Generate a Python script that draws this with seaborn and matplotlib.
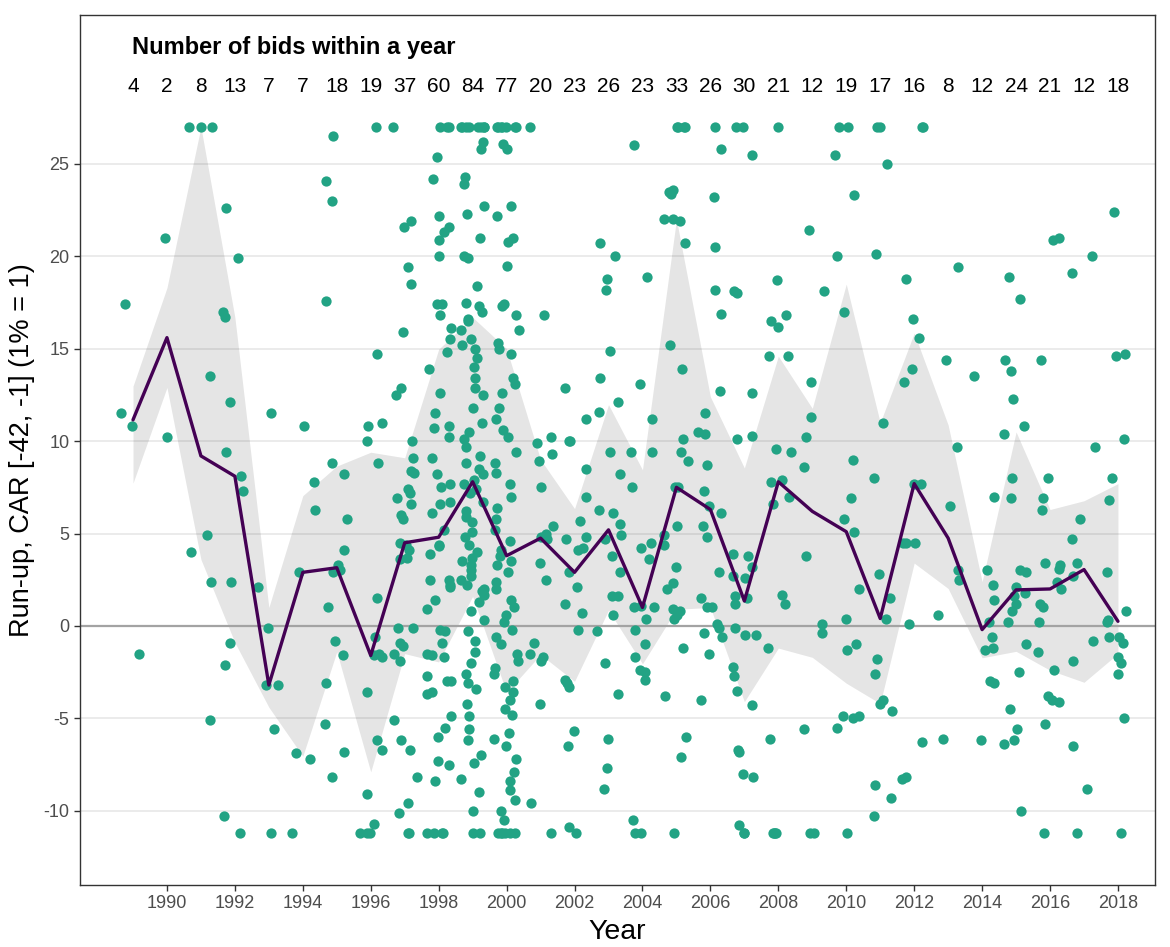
import numpy as np
import pandas as pd
import matplotlib
matplotlib.use("Agg")
import matplotlib.pyplot as plt
import seaborn as sns

# Run-up CAR [-42, -1] per bid, grouped by announcement year (values winsorised at 27 / -11.2)
years = list(range(1989, 2019))

car_1989 = [17.4, 11.5, 10.8, -1.5]
car_1990 = [21.0, 10.2]
car_1991 = [27.0, 27.0, 27.0, 13.5, 4.9, 4.0, 2.4, -5.1]
car_1992 = [22.6, 19.9, 17.0, 16.7, 12.1, 9.4, 8.1, 7.3, 2.4, -0.9, -2.1, -10.3, -11.2]
car_1993 = [11.5, 2.1, -0.1, -3.2, -3.2, -5.6, -11.2]
car_1994 = [10.8, 7.8, 6.3, 2.9, -6.9, -7.2, -11.2]
car_1995 = [26.5, 24.1, 23.0, 17.6, 8.8, 8.2, 5.8, 4.1, 3.3, 3.0, 2.9, 1.0, -0.8, -1.6,
            -3.1, -5.3, -6.8, -8.2]
car_1996 = [27.0, 14.7, 11.0, 10.8, 10.0, 8.8, 1.5, -0.6, -1.5, -1.6, -1.7, -3.6, -6.2,
            -6.7, -9.1, -10.7, -11.2, -11.2, -11.2]
car_1997 = [27.0, 21.9, 21.6, 19.4, 18.5, 15.9, 12.9, 12.5, 10.0, 9.1, 8.4, 8.3, 7.4, 7.2,
            6.9, 6.6, 6.0, 5.8, 4.5, 4.4, 4.1, 3.7, 3.6, -0.1, -0.1, -0.9, -1.1, -1.5, -1.9,
            -5.1, -6.2, -6.7, -8.2, -9.6, -10.1, -11.2, -11.2]
car_1998 = [27.0, 27.0, 27.0, 25.4, 24.2, 22.2, 21.6, 21.3, 20.9, 20.0, 17.4, 17.4, 16.8,
            16.1, 15.5, 14.8, 13.9, 12.6, 11.5, 10.8, 10.7, 10.2, 9.1, 8.2, 7.7, 7.5, 6.7,
            6.6, 6.1, 5.2, 4.4, 4.3, 3.9, 2.5, 2.5, 2.2, 2.1, 1.4, 0.9, -0.2, -0.3, -0.9,
            -1.5, -1.6, -1.7, -2.7, -3.0, -3.0, -3.6, -3.7, -4.9, -5.5, -6.0, -7.3, -7.5,
            -8.4, -11.2, -11.2, -11.2, -11.2]
car_1999 = [27.0, 27.0, 27.0, 27.0, 27.0, 27.0, 27.0, 27.0, 26.2, 25.8, 24.3, 23.9, 22.7,
            22.3, 21.0, 20.0, 19.9, 18.4, 17.5, 17.3, 17.0, 16.6, 16.5, 16.0, 15.5, 15.2,
            15.0, 14.5, 14.0, 13.4, 12.9, 12.5, 11.8, 11.0, 10.5, 10.1, 9.7, 9.2, 8.8, 8.5,
            8.2, 7.9, 7.7, 7.4, 7.2, 6.7, 6.2, 5.9, 5.6, 5.1, 4.8, 4.4, 4.0, 3.7, 3.5, 3.3,
            3.0, 2.7, 2.5, 2.2, 2.0, 1.9, 1.7, 1.3, 0.8, 0.3, -0.3, -0.8, -1.4, -2.0, -2.6,
            -3.1, -3.4, -4.2, -4.9, -5.6, -6.2, -7.0, -7.4, -8.3, -9.0, -10.0, -11.2, -11.2]
car_2000 = [27.0, 27.0, 27.0, 27.0, 27.0, 27.0, 27.0, 26.1, 25.8, 22.7, 22.2, 21.0, 20.8,
            19.5, 17.4, 17.3, 16.8, 16.0, 15.3, 15.0, 14.7, 13.4, 13.1, 12.6, 11.8, 11.2,
            10.6, 10.2, 9.4, 8.8, 8.3, 7.7, 7.0, 6.4, 5.8, 5.2, 4.6, 4.1, 3.8, 3.5, 3.3, 2.9,
            2.4, 2.0, 1.4, 1.0, 0.6, 0.2, -0.2, -0.6, -1.0, -1.5, -1.9, -2.3, -2.6, -3.0,
            -3.3, -3.6, -4.0, -4.5, -4.8, -5.8, -6.1, -6.5, -7.2, -7.9, -8.4, -8.9, -9.4,
            -10.0, -10.5, -11.2, -11.2, -11.2, -11.2, -11.2, -11.2]
car_2001 = [27.0, 16.8, 10.2, 9.9, 9.3, 8.9, 7.5, 5.4, 5.0, 4.8, 4.7, 3.4, 2.5, -0.9, -1.5,
            -1.7, -1.9, -4.2, -9.6, -11.2]
car_2002 = [12.9, 11.2, 10.0, 10.0, 8.5, 7.0, 5.7, 4.8, 4.7, 4.2, 4.1, 2.9, 2.1, 1.2, 0.7,
            -0.2, -2.9, -3.1, -3.3, -5.7, -6.5, -10.9, -11.2]
car_2003 = [20.7, 20.0, 18.8, 18.2, 14.9, 13.4, 12.1, 11.6, 9.4, 8.2, 6.3, 6.1, 5.5, 4.9,
            4.7, 3.8, 2.9, 1.6, 1.6, 0.6, -0.3, -2.0, -3.7, -6.1, -7.7, -8.8]
car_2004 = [26.0, 18.9, 13.1, 11.2, 9.4, 9.4, 7.5, 4.5, 4.2, 3.6, 1.1, 1.0, 1.0, 0.4, -0.2,
            -1.0, -1.7, -2.4, -2.5, -2.9, -10.5, -11.2, -11.2]
car_2005 = [27.0, 27.0, 27.0, 27.0, 23.6, 23.5, 23.4, 22.0, 22.0, 21.9, 20.7, 15.2, 13.9,
            10.1, 9.4, 8.9, 7.5, 7.5, 5.4, 4.9, 4.4, 3.2, 2.3, 2.0, 0.9, 0.8, 0.6, 0.4, -1.2,
            -3.8, -6.0, -7.1, -11.2]
car_2006 = [27.0, 25.8, 23.2, 20.5, 18.2, 16.9, 12.7, 11.5, 10.5, 10.4, 8.7, 7.3, 6.5, 6.1,
            5.4, 4.8, 2.9, 1.5, 1.0, 1.0, 0.1, -0.1, -0.4, -0.6, -1.5, -4.0]
car_2007 = [27.0, 27.0, 25.5, 18.1, 18.0, 12.6, 10.3, 10.1, 3.9, 3.8, 3.2, 2.7, 2.6, 1.6,
            1.5, 1.2, -0.1, -0.5, -0.5, -2.2, -2.7, -3.5, -4.3, -6.7, -6.8, -8.0, -8.2,
            -10.8, -11.2, -11.2]
car_2008 = [27.0, 18.7, 16.8, 16.5, 16.2, 14.6, 14.6, 9.6, 9.4, 7.9, 7.8, 7.0, 6.6, 1.7,
            1.2, -1.2, -6.1, -11.2, -11.2, -11.2, -11.2]
car_2009 = [21.4, 18.1, 13.2, 11.3, 10.2, 8.6, 3.8, 0.1, -0.4, -5.6, -11.2, -11.2]
car_2010 = [27.0, 27.0, 25.5, 23.3, 20.0, 17.0, 9.0, 6.9, 5.8, 5.1, 2.0, 0.4, -1.0, -1.3,
            -4.9, -4.9, -5.0, -5.5, -11.2]
car_2011 = [27.0, 27.0, 25.0, 20.1, 11.0, 8.0, 2.8, 1.5, 0.4, -1.8, -2.6, -4.0, -4.2, -4.6,
            -8.6, -9.3, -10.3]
car_2012 = [27.0, 27.0, 18.8, 16.6, 15.6, 13.9, 13.2, 7.7, 7.7, 4.5, 4.5, 4.5, 0.1, -6.3,
            -8.2, -8.3]
car_2013 = [19.4, 14.4, 9.7, 6.5, 3.0, 2.5, 0.6, -6.1]
car_2014 = [13.5, 7.0, 3.0, 2.2, 1.4, 0.2, -0.6, -1.2, -1.3, -3.0, -3.1, -6.2]
car_2015 = [18.9, 17.7, 14.4, 13.8, 12.3, 10.8, 10.4, 8.0, 6.9, 3.0, 2.9, 2.1, 1.8, 1.6,
            1.2, 0.8, 0.2, -1.0, -2.5, -4.5, -5.6, -6.2, -6.4, -10.0]
car_2016 = [21.0, 20.9, 14.4, 8.0, 6.9, 6.3, 3.4, 3.3, 3.1, 2.4, 2.0, 1.2, 1.0, 0.2, -1.4,
            -2.4, -3.8, -4.0, -4.1, -5.3, -11.2]
car_2017 = [20.0, 19.1, 9.7, 5.8, 4.7, 3.4, 2.7, -0.8, -1.9, -6.5, -8.8, -11.2]
car_2018 = [22.4, 14.7, 14.6, 10.1, 8.0, 6.8, 2.9, 0.8, 0.3, 0.2, -0.6, -0.6, -0.9, -1.7,
            -2.0, -2.6, -5.0, -11.2]

car_by_year = [car_1989, car_1990, car_1991, car_1992, car_1993, car_1994, car_1995,
               car_1996, car_1997, car_1998, car_1999, car_2000, car_2001, car_2002,
               car_2003, car_2004, car_2005, car_2006, car_2007, car_2008, car_2009,
               car_2010, car_2011, car_2012, car_2013, car_2014, car_2015, car_2016,
               car_2017, car_2018]

x_ticks = list(range(1990, 2019, 2))
y_ticks = [-10, -5, 0, 5, 10, 15, 20, 25]

df = pd.DataFrame({
    "year": np.repeat(years, [len(v) for v in car_by_year]),
    "car": np.concatenate(car_by_year),
})

sns.set_theme(style="white")
plt.rcParams["font.family"] = ["Liberation Sans", "DejaVu Sans"]
plt.rcParams["axes.unicode_minus"] = False

W, H = 1170, 947
fig = plt.figure(figsize=(W / 100, H / 100), dpi=100)
ax = fig.add_axes([80 / W, 1 - 885 / H, (1155 - 80) / W, (885 - 15) / H])

# Interquartile band of the yearly distribution
sns.lineplot(data=df, x="year", y="car", estimator="median", errorbar=("pi", 50),
             color="black", linewidth=0, err_kws={"alpha": 0.1, "linewidth": 0},
             ax=ax, zorder=1)

ax.axhline(0, color="#A3A3A3", linewidth=1.6, zorder=1.5)

# Individual bids, jittered around their year
np.random.seed(11)
sns.stripplot(data=df, x="year", y="car", native_scale=True, orient="x", jitter=0.37,
              color="#22A384", size=7.4, linewidth=0, ax=ax, zorder=3)

# Yearly median
sns.lineplot(data=df, x="year", y="car", estimator="median", errorbar=None,
             color="#440154", linewidth=2.4, ax=ax, zorder=4)

# Number of bids per year along the top
ax.text(1989 - 0.03, 31.3, "Number of bids within a year", fontsize=17,
        fontweight="bold", ha="left", va="center", color="black")
for yr, vals in zip(years, car_by_year):
    ax.text(yr, 29.2, str(len(vals)), fontsize=15, ha="center", va="center",
            color="black")

ax.set_xlim(1987.44, 2019.09)
ax.set_ylim(-14.02, 33.06)
ax.set_xticks(x_ticks)
ax.set_yticks(y_ticks)
ax.set_xticklabels([str(t) for t in x_ticks])
ax.set_yticklabels([str(t) for t in y_ticks])

ax.grid(False)
ax.yaxis.grid(True, color="#EBEBEB", linewidth=1.4)
ax.set_axisbelow(True)

for side in ["left", "right", "top", "bottom"]:
    ax.spines[side].set_visible(True)
    ax.spines[side].set_color("#333333")
    ax.spines[side].set_linewidth(1.0)

ax.tick_params(axis="both", which="major", length=4, width=1.0, color="#333333",
               labelsize=13, labelcolor="#4D4D4D", direction="out",
               bottom=True, left=True)

ax.set_xlabel("Year", fontsize=20.5, color="black", labelpad=5)
ax.set_ylabel("Run-up, CAR [-42, -1] (1% = 1)", fontsize=19.5, color="black", labelpad=6)
if ax.get_legend() is not None:
    ax.get_legend().remove()

fig.savefig("out.png", dpi=100)
